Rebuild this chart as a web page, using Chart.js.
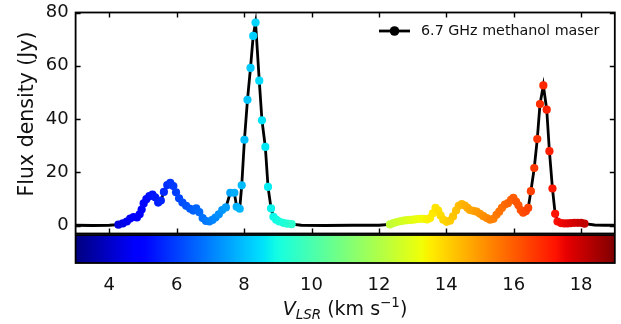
<!DOCTYPE html>
<html><head><meta charset="utf-8">
<script src="https://cdn.jsdelivr.net/npm/chart.js@4.4.1/dist/chart.umd.min.js"></script>
<style>html,body{margin:0;padding:0;background:#fff;}#wrap{width:621px;height:324px;position:relative;}</style>
</head><body><div id="wrap"><canvas id="c" width="621" height="324"></canvas></div>
<script>
// ---- data ----
const seriesLabel = '6.7 GHz methanol maser';
// blue/cyan group of channels (km/s) and flux density (Jy)
const velocityBlue = [4.27,4.40,4.52,4.62,4.72,4.82,4.90,4.96,5.02,5.10,5.19,5.28,5.36,5.45,5.53,5.62,5.72,5.81,5.90,5.98,6.07,6.17,6.28,6.40,6.49,6.58,6.67,6.77,6.87,6.97,7.06,7.15,7.25,7.35,7.46,7.59,7.71,7.78,7.87,7.93,8.01,8.10,8.19,8.27,8.34,8.45,8.53,8.63,8.71,8.80,8.87,8.95,9.04,9.16,9.28,9.41];
const fluxBlue     = [0.3,0.8,1.5,2.6,3.2,3.0,4.2,6.0,8.3,9.9,11.0,11.6,10.6,8.6,9.4,12.6,15.2,16.0,14.8,12.5,10.2,8.6,7.4,6.3,5.6,6.4,5.0,2.8,1.7,1.5,2.1,3.0,4.2,5.8,6.8,12.3,12.3,7.0,6.3,15.1,32.2,47.2,59.2,71.2,76.2,54.4,39.5,29.5,14.5,6.4,3.3,2.2,1.5,1.0,0.7,0.5];
// yellow/red group
const velocityRed  = [12.33,12.43,12.53,12.63,12.73,12.83,12.93,13.03,13.13,13.23,13.33,13.43,13.52,13.60,13.68,13.76,13.83,13.91,14.01,14.11,14.20,14.29,14.37,14.46,14.55,14.63,14.70,14.80,14.90,15.00,15.10,15.20,15.30,15.40,15.49,15.57,15.65,15.74,15.83,15.92,15.99,16.07,16.14,16.21,16.28,16.36,16.43,16.51,16.61,16.70,16.78,16.88,16.98,17.06,17.15,17.23,17.30,17.40,17.50,17.60,17.70,17.80,17.90,18.00,18.10];
const fluxRed      = [0.4,0.9,1.3,1.6,1.8,2.0,2.1,2.2,2.4,2.5,2.5,2.3,2.8,4.6,6.6,5.6,3.8,2.2,1.4,1.8,3.4,5.6,7.4,8.0,7.5,6.6,5.8,5.5,5.2,4.4,3.5,2.8,2.2,2.5,4.0,5.2,6.6,7.9,8.4,9.6,10.4,9.0,7.6,5.8,4.8,5.4,6.6,12.9,21.6,32.5,45.6,52.6,43.5,27.9,13.9,4.4,1.5,0.9,0.8,0.8,0.9,1.0,1.0,1.0,0.7];
// baseline channels of the spectrum outside the coloured groups
const velocityBase1 = [3.0,3.5,4.0];   const fluxBase1 = [0.1,0.0,0.1];
const velocityBase2 = [9.7,10.4,11.2,12.0]; const fluxBase2 = [0.1,0.0,0.1,0.1];
const velocityBase3 = [18.4,18.7,19.0]; const fluxBase3 = [0.2,0.1,0.1];
const xTickLabels = [4,6,8,10,12,14,16,18];
const yTickLabels = [0,20,40,60,80];
const colorbarMin = 3, colorbarMax = 19;

// ---- jet colormap (matplotlib segment data) ----
const jetR=[[0,0],[0.35,0],[0.66,1],[0.89,1],[1,0.5]];
const jetG=[[0,0],[0.125,0],[0.375,1],[0.64,1],[0.91,0],[1,0]];
const jetB=[[0,0.5],[0.11,1],[0.34,1],[0.65,0],[1,0]];
function seg(s,t){for(let i=1;i<s.length;i++){if(t<=s[i][0]){const a=s[i-1],b=s[i];return a[1]+(b[1]-a[1])*(t-a[0])/(b[0]-a[0]);}}return s[s.length-1][1];}
function jet(t){t=Math.max(0,Math.min(1,t));return 'rgb('+Math.round(255*seg(jetR,t))+','+Math.round(255*seg(jetG,t))+','+Math.round(255*seg(jetB,t))+')';}
function vcol(v){return jet((v-colorbarMin)/(colorbarMax-colorbarMin));}

const zip=(xs,ys)=>xs.map((x,i)=>({x:x,y:ys[i]}));
const maserPts = zip(velocityBlue,fluxBlue).concat(zip(velocityRed,fluxRed));
const maserCols = maserPts.map(p=>vcol(p.x));
const linePts = zip(velocityBase1,fluxBase1).concat(zip(velocityBlue,fluxBlue),zip(velocityBase2,fluxBase2),zip(velocityRed,fluxRed),zip(velocityBase3,fluxBase3));

const FONT='DejaVu Sans';
const decor = {
  id:'decor',
  afterDraw(chart){
    const c=chart.ctx, a=chart.chartArea, xs=chart.scales.x, ys=chart.scales.y;
    c.save();
    // inward ticks
    c.strokeStyle='#000'; c.lineWidth=1.4;
    c.beginPath();
    xTickLabels.forEach(v=>{const px=Math.round(xs.getPixelForValue(v))+0.5;c.moveTo(px,a.top);c.lineTo(px,a.top+5);c.moveTo(px,a.bottom);c.lineTo(px,a.bottom-5);});
    yTickLabels.forEach(v=>{const py=Math.round(ys.getPixelForValue(v))+0.5;c.moveTo(a.left,py);c.lineTo(a.left+5,py);c.moveTo(a.right,py);c.lineTo(a.right-5,py);});
    c.stroke();
    // frame
    c.lineWidth=1.8;
    c.strokeRect(a.left,a.top,a.right-a.left,a.bottom-a.top);
    // colorbar
    const cbTop=a.bottom+1.5, cbH=28;
    const g=c.createLinearGradient(a.left,0,a.right,0);
    for(let i=0;i<=100;i++){g.addColorStop(i/100,jet(i/100));}
    c.fillStyle=g; c.fillRect(a.left,cbTop,a.right-a.left,cbH);
    c.strokeRect(a.left,cbTop,a.right-a.left,cbH);
    // legend
    const ly=31;
    c.lineWidth=2.8; c.beginPath(); c.moveTo(379,ly); c.lineTo(410,ly); c.stroke();
    c.fillStyle='#000'; c.beginPath(); c.arc(394.5,ly,4.8,0,Math.PI*2); c.fill();
    c.font='14.3px "'+FONT+'"'; c.textBaseline='middle'; c.textAlign='left'; c.fillStyle='#111';
    c.fillText(seriesLabel,421,ly+0.5);
    // y title
    c.save(); c.translate(28,114); c.rotate(-Math.PI/2);
    c.font='20.5px "'+FONT+'"'; c.textAlign='center'; c.textBaseline='middle';
    c.fillText('Flux density (Jy)',0,0); c.restore();
    // x title: V_LSR (km s^-1)
    const big=19, small=13.5, base=315;
    const parts=[
      {t:'V',f:'italic '+big+'px "'+FONT+'"',dy:0},
      {t:'LSR',f:'italic '+small+'px "'+FONT+'"',dy:4},
      {t:' (km s',f:big+'px "'+FONT+'"',dy:0},
      {t:'\u22121',f:small+'px "'+FONT+'"',dy:-8},
      {t:')',f:big+'px "'+FONT+'"',dy:0}];
    let w=0; parts.forEach(p=>{c.font=p.f;p.w=c.measureText(p.t).width;w+=p.w;});
    let x=345-w/2; c.textBaseline='alphabetic'; c.textAlign='left';
    parts.forEach(p=>{c.font=p.f;c.fillText(p.t,x,base+p.dy);x+=p.w;});
    c.restore();
  }
};

function noPad(s){s.paddingLeft=0;s.paddingRight=0;s.paddingTop=0;s.paddingBottom=0;}

new Chart(document.getElementById('c'),{
  type:'scatter',
  data:{datasets:[
    {label:'channels',data:maserPts,showLine:false,pointRadius:4.1,pointHoverRadius:4.1,pointBackgroundColor:maserCols,pointBorderColor:maserCols,pointBorderWidth:0,order:0},
    {label:seriesLabel,data:linePts,showLine:true,borderColor:'#000',backgroundColor:'#000',borderWidth:2.8,pointRadius:0,tension:0,order:1}
  ]},
  options:{
    responsive:false,animation:false,devicePixelRatio:1,
    layout:{padding:{left:0,right:6.2,top:12.5,bottom:0}},
    plugins:{legend:{display:false},tooltip:{enabled:false}},
    scales:{
      x:{type:'linear',min:colorbarMin,max:colorbarMax,
        afterBuildTicks:s=>{s.ticks=xTickLabels.map(v=>({value:v}));},
        afterFit:s=>{s.height=90.5;noPad(s);},
        grid:{display:false,drawTicks:false},border:{display:false},
        ticks:{padding:41,autoSkip:false,maxRotation:0,color:'#111',font:{family:FONT,size:18}}},
      y:{type:'linear',min:-3,max:80,
        afterBuildTicks:s=>{s.ticks=yTickLabels.map(v=>({value:v}));},
        afterFit:s=>{s.width=75.6;noPad(s);},
        grid:{display:false,drawTicks:false},border:{display:false},
        ticks:{padding:7,color:'#111',font:{family:FONT,size:18}}}
    }
  },
  plugins:[decor]
});
</script></body></html>
